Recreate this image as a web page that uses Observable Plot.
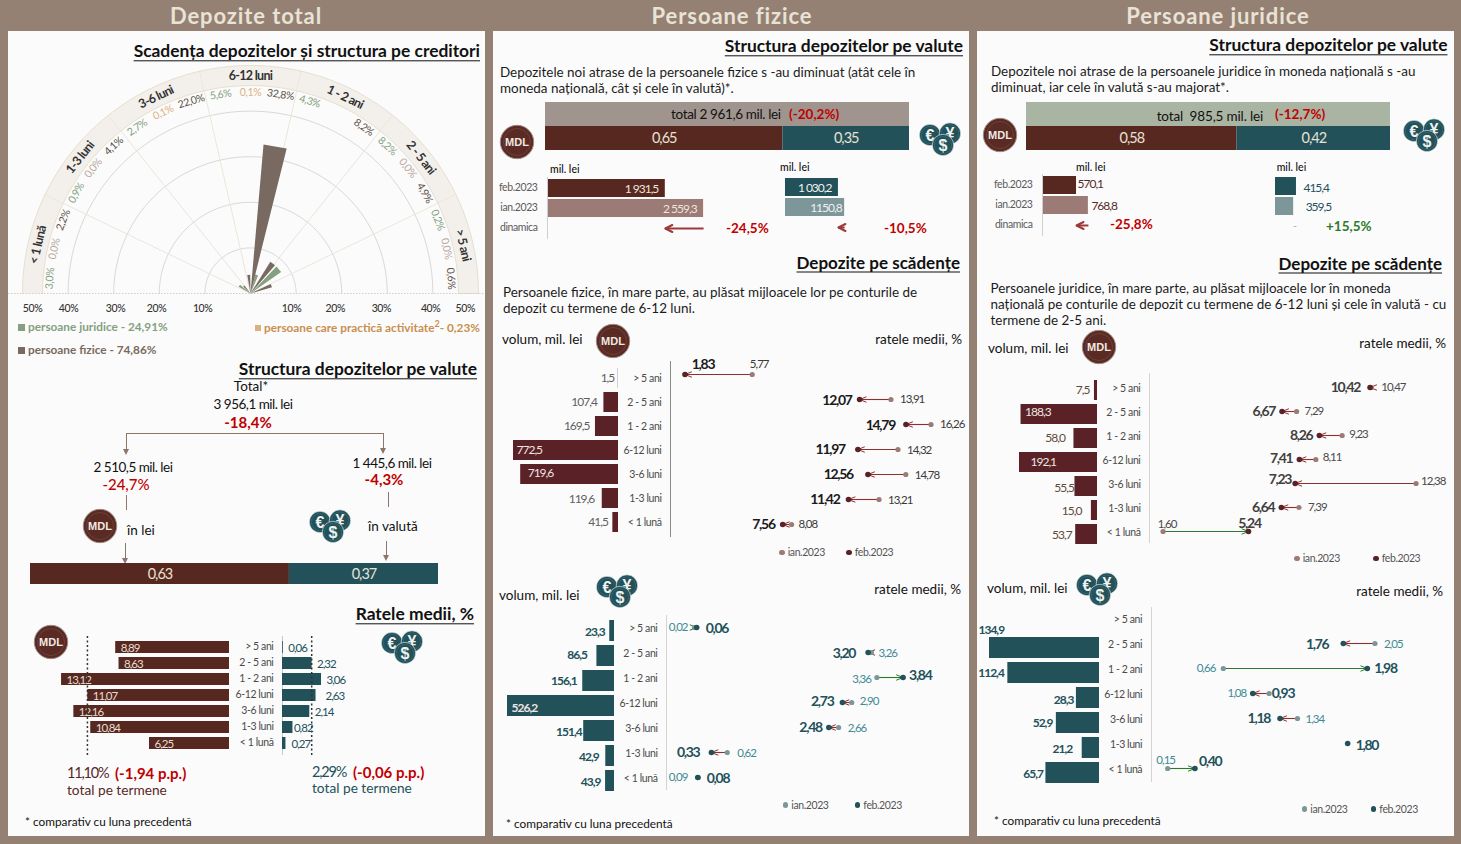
<!DOCTYPE html>
<html lang="ro">
<head>
<meta charset="utf-8">
<script src="https://cdn.jsdelivr.net/npm/d3@7"></script>
<script src="https://cdn.jsdelivr.net/npm/@observablehq/plot@0.6"></script>
<style>
html,body{margin:0;padding:0;width:1461px;height:844px;overflow:hidden;background:#958074;font-family:Lato,sans-serif;color:#111}
#page{position:absolute;left:0;top:0;width:1461px;height:844px}
.abs{position:absolute}
.t{position:absolute;white-space:nowrap;line-height:1}
.abs svg,.p svg{overflow:visible}
.p{position:absolute}
.p [font-size]{letter-spacing:-1px}
.p [font-size="10.5"]{letter-spacing:-.4px}
.p [font-size="12.5"]{letter-spacing:-.7px}
.p [font-size="14"]{letter-spacing:-1.3px}
</style>
</head>
<body>
<div id="page"></div>
<script>
/* ---------- data ---------- */
const termene = ["> 5 ani","2 - 5 ani","1 - 2 ani","6-12 luni","3-6 luni","1-3 luni","< 1 lună"];

// Depozite total: radial chart
const sectorNames = ["< 1 lună","1-3 luni","3-6 luni","6-12 luni","1 - 2 ani","2 - 5 ani","> 5 ani"];
const slotValues = [3.0,0.0,2.2, 0.9,0.0,4.1, 2.7,0.1,22.0, 5.6,0.1,32.8, 4.3,null,8.2, 8.2,0.0,4.9, 0.2,0.0,0.6];
const wedgeGroup = ["j","f","f","j","f","f","j","f"];
const wedgeValue = [3.0,2.2,4.1,4.3,32.8,8.2,8.2,4.9];
const wedgeFrom  = [-60,-46,-10,14,5,32,44,65];
const wedgeTo    = [-50,-37,-1,23,14,41,55,74];
const gridPercents = [10,20,30,40];
const polarTickText = ["50%","40%","30%","20%","10%","10%","20%","30%","40%","50%"];
const polarTickAt = [-47.8,-39.9,-29.6,-20.6,-10.5,9,18.6,28.7,39.5,47.1];

// Depozite total: currency split and average rates
const totalMdlVal = 2510.5, totalFxVal = 1445.6;
const totalRateMdl = [8.89,8.63,13.12,11.07,12.16,10.84,6.25];
const totalRateFx  = [0.06,2.32,3.06,2.63,2.14,0.82,0.27];
const avgRateMdl = 11.10, avgRateFx = 2.29;

// Persoane fizice
const fizMdlTot = 1931.5, fizFxTot = 1030.2;
const fizMdlIanTot = 2559.3, fizFxIanTot = 1150.8;
const fizMdlVol = [1.5,107.4,169.5,772.5,719.6,119.6,41.5];
const fizMdlFeb = [1.83,12.07,14.79,11.97,12.56,11.42,7.56];
const fizMdlIan = [5.77,13.91,16.26,14.32,14.78,13.21,8.08];
const fizFxVol  = [23.3,86.5,156.1,526.2,151.4,42.9,43.9];
const fizFxFeb  = [0.06,3.20,3.84,2.73,2.48,0.33,0.08];
const fizFxIan  = [0.02,3.26,3.36,2.90,2.66,0.62,0.09];

// Persoane juridice
const jurMdlTot = 570.1, jurFxTot = 415.4;
const jurMdlIanTot = 768.8, jurFxIanTot = 359.5;
const jurMdlVol = [7.5,188.3,58.0,192.1,55.5,15.0,53.7];
const jurMdlFeb = [10.42,6.67,8.26,7.41,7.23,6.64,5.24];
const jurMdlIan = [10.47,7.29,9.23,8.11,12.38,7.39,1.60];
const jurFxVol  = [null,134.9,112.4,28.3,52.9,21.2,65.7];
const jurFxFeb  = [null,1.76,1.98,0.93,1.18,1.80,0.40];
const jurFxIan  = [null,2.05,0.66,1.08,1.34,null,0.15];

/* ---------- label nudges in pixels: [dx, dy, anchor] ---------- */
const nFizMdlVol = [[-4,0],[-7,0],[-6,0],[3,0],[7,-1],[-8,1],[-5,0]];
const nFizMdlFeb = [[18,-10,"m"],[-8,1],[-11,1],[-13,0],[-15,0],[-9,0],[-8,0]];
const nFizMdlIan = [[7,-10,"m"],[9,0],[9,0],[9,1],[9,1],[9,1],[7,0]];
const nFizFxVol  = [[-5,1],[-10,-1],[-6,0],[4,2],[-2,1],[-7,1],[-5,1]];
const nFizFxFeb  = [[9,1],[-13,1],[6,-2],[-9,-1],[-7,0],[-12,0],[9,1]];
const nFizFxIan  = [[-7,0],[7,1],[-6,2],[8,-1],[9,1],[10,1],[-11,0]];
const nJurMdlVol = [[-5,0],[4,-2],[-9,0],[11,0],[-1,2],[-10,1],[-4,1]];
const nJurMdlFeb = [[-10,0],[-7,0],[-7,0],[-7,-1],[-4,-4],[-7,0],[1,-8,"m"]];
const nJurMdlIan = [[10,0],[8,0],[7,-1],[7,-2],[5,-2],[9,0],[4,-7,"m"]];
const nJurFxVol  = [[0,0],[-11,-17.5,"s"],[-4,0],[-3,2],[-4,0],[-10,1],[-3,1]];
const nJurFxFeb  = [[0,0],[-15,1],[7,0],[19,0],[-10,0],[8,2],[4,-7]];
const nJurFxIan  = [[0,0],[9,1],[-8,0],[-23,0],[8,1],[0,0],[-2,-8,"m"]];
const nRateFx    = [5,5,5,9.5,5,1,5.6];

/* ---------- style ---------- */
const RED="#57281f", TEAL="#22515a", PLUM="#5a2127", LIGHT="#e8e2d4", ALERT="#c00000";
const GOOD="#2a7a2a", BAD="#8f2f2f";
const GREEN="#84a07f", BROWN="#786a60", TAN="#dcb182", GREYTAN="#b9a59c";
const page=document.getElementById("page");
const comma=(v,d)=>v.toFixed(d).replace(".",",");

/* ---------- helpers ---------- */
function t(html,x,y,o={}){
  const e=document.createElement("div"); e.className="t"; e.innerHTML=html;
  const a=o.anchor||"start";
  const tx=a==="end"?"-100%":a==="middle"?"-50%":"0";
  e.style.cssText+=`left:${x}px;top:${y}px;transform:translate(${tx},-50%);font-size:${o.size||13}px;font-weight:${o.weight||400};color:${o.color||"#111"};`+(o.css||"");
  page.appendChild(e); return e;
}
function box(x,y,w,h,bg){const e=document.createElement("div");e.className="abs";e.style.cssText=`left:${x}px;top:${y}px;width:${w}px;height:${h}px;background:${bg}`;page.appendChild(e);return e;}
function vline(x,y1,y2,c,w=1){box(x,y1,w,y2-y1,c);}
function hline(x1,x2,y,c,w=1){box(x1,y,x2-x1,w,c);}
function downArrow(x,y1,y2,c="#8a766b"){
  vline(x,y1,y2-4,c);
  const e=document.createElement("div");e.className="abs";
  e.style.cssText=`left:${x-3}px;top:${y2-5}px;width:0;height:0;border-left:3.5px solid transparent;border-right:3.5px solid transparent;border-top:6px solid ${c}`;
  page.appendChild(e);
}
function heading(text,right,y,size=17.4){
  t(text,right,y,{anchor:"end",size,weight:700,css:"text-decoration:underline;text-decoration-thickness:1.4px;text-underline-offset:3px;text-decoration-skip-ink:none;"});
}
function para(lines,x,y,step=16){lines.forEach((l,i)=>t(l,x,y+i*step,{size:13.45,color:"#1c1c1c"}));}
function legendPair(ianX,febX,y,ianC,febC,textC="#555"){
  const d=(x,c)=>{const e=box(x-2.5,y-2.5,5.5,5.5,c);e.style.borderRadius="50%";};
  d(ianX,ianC);t("ian.2023",ianX+6,y,{size:10.5,color:textC,css:"letter-spacing:-.4px;"});
  d(febX,febC);t("feb.2023",febX+6,y,{size:10.5,color:textC,css:"letter-spacing:-.4px;"});
}
function svgIcon(x,y,w,h,inner){
  const e=document.createElement("div");e.className="abs";e.style.cssText=`left:${x}px;top:${y}px;width:${w}px;height:${h}px`;
  e.innerHTML=`<svg width="${w}" height="${h}" viewBox="0 0 ${w} ${h}" xmlns="http://www.w3.org/2000/svg">${inner}</svg>`;
  page.appendChild(e);
}
function coinMDL(cx,cy){
  svgIcon(cx-18,cy-18,36,36,`<circle cx="18" cy="18" r="16.7" fill="#5a2a24" stroke="#a08c84" stroke-width="1"/>
  <circle cx="18" cy="18" r="13.5" fill="none" stroke="#6e3f37" stroke-width="1"/>
  <text x="18" y="21.8" text-anchor="middle" font-family="Liberation Sans,Arial,sans-serif" font-weight="700" font-size="11" fill="#f0e8e0">MDL</text>`);
}
function coinFX(cx,cy){ // cx,cy: centre of the $ coin
  const c=(x,y,s)=>`<circle cx="${x}" cy="${y}" r="10.7" fill="${TEAL}" stroke="#fafafa" stroke-width=".6"/><circle cx="${x}" cy="${y}" r="8.6" fill="none" stroke="#3a6a72" stroke-width=".7"/>
  <text x="${x}" y="${y+5.6}" text-anchor="middle" font-family="Liberation Sans,Arial,sans-serif" font-weight="700" font-size="16" fill="#eef2f0">${s}</text>`;
  svgIcon(cx-26,cy-26,52,42,c(13,16,"€")+c(33,14.5,"¥")+c(26,26,"$"));
}
function place(b,opts){
  const [l,tp,w,h]=b;
  const o={...opts,width:w,height:h,margin:0,color:{type:"identity"},
    style:{background:"transparent",overflow:"visible",fontFamily:"Lato,sans-serif",fontSize:"12px",color:"#111"}};
  if(o.x)o.x={axis:null,...o.x,range:o.x.range.map(v=>v-l)};
  if(o.y)o.y={axis:null,...o.y,range:o.y.range.map(v=>v-tp)};
  const c=Plot.plot(o);
  const d=document.createElement("div");d.className="p";d.style.cssText=`left:${l}px;top:${tp}px;width:${w}px;height:${h}px`;
  d.appendChild(c);page.appendChild(d);return c;
}
function anchorOf(n){return n[2]==="m"?"middle":n[2]==="s"?"start":n[2]==="e"?"end":n[0]<0?"end":"start";}
function nudged(rows,nudges,style){
  return rows.map((r,i)=>({...r,n:nudges[i]})).filter(r=>r.v!=null).map(r=>
    Plot.text([r],{x:"v",y:"c",text:"t",dx:r.n[0],dy:r.n[1],textAnchor:anchorOf(r.n),...(typeof style==="function"?style(r):style)}));
}
// open arrow head at the "to" value, independent of the shaft length
const vHead={draw(ctx,l,r){ctx.moveTo(-r,-l);ctx.lineTo(0,0);ctx.lineTo(r,-l);}};

/* ---------- maturity block: volume bars + dumbbell of rates ---------- */
function maturityBlock(c){
  const maxV=d3.max(c.vol), padI=.16;
  const rowsV=termene.map((k,i)=>({c:k,v:c.vol[i],t:c.vol[i]==null?"":comma(c.vol[i],1)}));
  const rowsCat=termene.map(k=>({c:k}));
  place([c.zero-125,c.bandY[0]-8,c.catRight-c.zero+130,c.bandY[1]-c.bandY[0]+16],{
    x:{domain:[0,maxV],range:[c.zero,c.zero-c.ppuV*maxV]},
    y:{type:"band",domain:termene,range:c.bandY,paddingInner:padI,paddingOuter:0},
    marks:[
      Plot.barX(rowsV.filter(r=>r.v!=null),{x:"v",y:"c",fill:c.bar}),
      nudged(rowsV,c.nVol,r=>({fontSize:12,fontWeight:c.volWeight||400,fill:r.n[0]>0&&r.n[2]!=="s"?"#eee5e0":c.volColor})),
      Plot.text(rowsCat,{x:()=>0,y:"c",text:"c",dx:c.catRight-c.zero,dy:c.catDy,textAnchor:"end",fontSize:10.5,fill:"#4a4a4a"})
    ]});
  vline(c.axis[0],c.axis[1],c.axis[2],c.axisC);
  const maxR=d3.max([...c.feb,...c.ian]);
  const rows=termene.map((k,i)=>({c:k,feb:c.feb[i],ian:c.ian[i]}));
  const both=rows.filter(r=>r.feb!=null&&r.ian!=null);
  const heads=both.filter(r=>Math.abs(r.feb-r.ian)*c.ppuR>=1);
  const febRows=rows.map(r=>({c:r.c,v:r.feb,t:r.feb==null?"":comma(r.feb,2)}));
  const ianRows=rows.map(r=>({c:r.c,v:r.ian,t:r.ian==null?"":comma(r.ian,2)}));
  const col=d=>d.feb<d.ian?BAD:GOOD;
  place([c.axis[0]+1,c.dotY[0]-16,c.rightEdge-c.axis[0]-1,c.dotY[1]-c.dotY[0]+32],{
    x:{domain:[0,maxR],range:[c.x0,c.x0+c.ppuR*maxR]},
    y:{type:"point",domain:termene,range:c.dotY,padding:0},
    marks:[
      Plot.link(both,{x1:"ian",x2:"feb",y1:"c",y2:"c",stroke:col,strokeWidth:1.1}),
      Plot.vector(heads,{x:"feb",y:"c",rotate:d=>d.feb<d.ian?90:-90,length:6.5,r:2.6,anchor:"start",shape:vHead,stroke:col,strokeWidth:1,fill:"none"}),
      Plot.dot(ianRows.filter(r=>r.v!=null),{x:"v",y:"c",r:2.6,fill:c.ianC}),
      Plot.dot(febRows.filter(r=>r.v!=null),{x:"v",y:"c",r:2.8,fill:c.febC}),
      nudged(ianRows,c.nIan,{fontSize:11.5,fill:c.ianText}),
      nudged(febRows,c.nFeb,{fontSize:14,fontWeight:700,fill:c.febText})
    ]});
}

/* ---------- split bar ---------- */
function splitBar(x1,x2,y1,y2,mdl,fx,lMdl,lFx,totalFill,totalTop){
  const total=mdl+fx;
  const rows=[{k:"lei",v:mdl,l:lMdl,fill:RED},{k:"valuta",v:fx,l:lFx,fill:TEAL}];
  const dom=totalFill?["total","structura"]:["structura"];
  const top=totalFill?totalTop:y1;
  place([x1,top,x2-x1,y2-top],{
    x:{domain:[0,total],range:[x1,x2]},
    y:{type:"band",domain:dom,range:[top,y2],padding:0},
    marks:[
      totalFill?Plot.barX([{v:total}],{x:"v",y:()=>"total",fill:totalFill}):null,
      Plot.barX(rows,Plot.stackX({x:"v",y:()=>"structura",fill:"fill",order:null})),
      Plot.text(rows,Plot.stackX({x:"v",y:()=>"structura",text:"l",fill:LIGHT,fontSize:14.5,order:null}))
    ]});
}

/* ---------- two months bars with dynamics row ---------- */
function monthBars(c){
  const dom=["feb.2023","ian.2023","dinamica"];
  const rows=[{c:dom[0],v:c.feb,t:c.lFeb,fill:c.fFeb},{c:dom[1],v:c.ian,t:c.lIan,fill:c.fIan}];
  const maxV=Math.max(c.feb,c.ian);
  const dyn=[{a:c.ian,b:c.feb}];
  const col=c.arrowC||"#9c3a3a", w=c.arrowW||2;
  place([c.zero-60,c.top-4,c.ppu*maxV+100,c.bottom-c.top+10],{
    x:{domain:[0,maxV],range:[c.zero,c.zero+c.ppu*maxV]},
    y:{type:"band",domain:dom,range:[c.top,c.bottom],paddingInner:.095,paddingOuter:0},
    marks:[
      Plot.barX(rows,{x:"v",y:"c",fill:"fill"}),
      nudged(rows,c.nVal,{fontSize:12,fill:c.valC}),
      c.rowLabels?Plot.text(dom,{x:()=>0,y:d=>d,text:d=>d,dx:c.rowLabels,dy:-.5,textAnchor:"end",fontSize:10.5,fill:"#5a5a5a"}):null,
      Plot.link(dyn,{x1:"a",x2:"b",y1:()=>"dinamica",y2:()=>"dinamica",stroke:col,strokeWidth:w}),
      c.noHead?null:Plot.vector(dyn,{x:"b",y:()=>"dinamica",rotate:90,length:7,r:3.5,anchor:"start",shape:vHead,stroke:col,strokeWidth:w,fill:"none"})
    ]});
}

/* ---------- frame ---------- */
[[8,31,477,805],[493,31,476,805],[977,31,477,805]].forEach(p=>box(...p,"#fbfbfb"));
[["Depozite total",246],["Persoane fizice",732],["Persoane juridice",1218]].forEach(([s,x])=>
  t(s,x,15.5,{anchor:"middle",size:22,weight:700,color:"#e9e3d6",css:"letter-spacing:.9px;"}));

/* ---------- PANEL 1: radial ---------- */
heading("Scadența depozitelor și structura pe creditori",480,51);
const DEG=Math.PI/180, STEP=180/7, SLOT=180/21;
const polar=(r,a)=>({x:r*Math.sin(a*DEG),y:r*Math.cos(a*DEG)});
const arc=(r,a1,a2,n=24)=>d3.range(n+1).map(i=>polar(r,a1+(a2-a1)*i/n));
const BAND_IN=45.6;
const bandPolys=sectorNames.flatMap((s,i)=>{
  const a1=-90+i*STEP,a2=a1+STEP;
  return [...arc(50,a1,a2,12),...arc(BAND_IN,a2,a1,12)].map(p=>({...p,s}));
});
const gridPts=gridPercents.flatMap(r=>arc(r,-90,90,60).map(p=>({...p,r})));
const divs=d3.range(1,7).flatMap(i=>[{...polar(0,-90+i*STEP),i},{...polar(BAND_IN,-90+i*STEP),i}]);
const wedgePts=wedgeValue.flatMap((v,i)=>[{x:0,y:0},polar(v,wedgeFrom[i]),polar(v,wedgeTo[i])].map(p=>({...p,i,g:wedgeGroup[i]})));
const sectorLabels=sectorNames.map((s,i)=>({s,...polar(47.8,-90+(i+.5)*STEP),a:-90+(i+.5)*STEP}));
const slotRows=slotValues.map((v,i)=>{
  const g=["j","p","f"][i%3], a=-90+(i+.5)*SLOT;
  return {v,g,a,...polar(44.1,a),t:v==null?"":comma(v,1)+"%",fill:g==="j"?GREEN:g==="f"?"#5d5249":(v===0?GREYTAN:TAN)};
}).filter(d=>d.v!=null);
const ticks=polarTickText.map((s,i)=>({s,x:polarTickAt[i]}));
place([8,60,477,265],{
  x:{domain:[-50,50],range:[22,478]},
  y:{domain:[0,50],range:[293,65]},
  marks:[
    Plot.line(bandPolys,{x:"x",y:"y",z:"s",fill:"#f3f0ec",stroke:"#e6e0cf",strokeWidth:1}),
    Plot.line(gridPts,{x:"x",y:"y",z:"r",stroke:"#d9d9d9",strokeWidth:1}),
    Plot.line(divs,{x:"x",y:"y",z:"i",stroke:"#ece6da",strokeWidth:1}),
    Plot.ruleY([0],{stroke:"#cfcfcf",strokeDasharray:"1.5,1.5"}),
    Plot.line(wedgePts.filter(d=>d.g==="j"),{x:"x",y:"y",z:"i",fill:GREEN,stroke:"none"}),
    Plot.line(wedgePts.filter(d=>d.g==="f"),{x:"x",y:"y",z:"i",fill:BROWN,stroke:"none"}),
    Plot.text(sectorLabels,{x:"x",y:"y",text:"s",rotate:"a",fontSize:12.5,fontWeight:700,fill:"#333"}),
    Plot.text(slotRows,{x:"x",y:"y",text:"t",rotate:"a",fontSize:10.5,fill:"fill"}),
    Plot.text(ticks,{x:"x",y:()=>0,text:"s",dy:15.5,fontSize:10.5,fontWeight:500,fill:"#333"})
  ]});
box(18,324,7,7,GREEN);t("persoane juridice - 24,91%",28,327,{size:11.8,weight:700,color:GREEN});
box(18,347,7,7,BROWN);t("persoane fizice - 74,86%",28,350,{size:11.8,weight:700,color:BROWN});
box(255,325,6,6,TAN);t("persoane care practică activitate<sup style='font-size:9px;line-height:0'>2</sup>- 0,23%",264,327.5,{size:11.8,weight:700,color:"#c88f4f"});

/* ---------- PANEL 1: structure ---------- */
heading("Structura depozitelor pe valute",477,369);
t("Total*",251,387,{anchor:"middle",size:13.5});
const tight="letter-spacing:-.5px;";
t("3 956,1 mil. lei",253,405,{anchor:"middle",size:13.5,css:tight});
t("-18,4%",248,422,{anchor:"middle",size:15,weight:700,color:ALERT});
hline(126,383,433,"#8a766b");
downArrow(126,433,454);downArrow(383,433,453);
t("2 510,5 mil. lei",133,468,{anchor:"middle",size:13.5,css:tight});
t("-24,7%",126,484,{anchor:"middle",size:15,weight:500,color:ALERT});
t("1 445,6 mil. lei",392,464,{anchor:"middle",size:13.5,css:tight});
t("-4,3%",384,479,{anchor:"middle",size:15,weight:700,color:ALERT});
vline(126,495,510,"#8a766b");vline(388,492,507,"#8a766b");
t("în lei",127,531,{size:13.5});t("în valută",368,527,{size:13.5});
downArrow(125,543,563);downArrow(386,541,560);
coinMDL(100,526);coinFX(333,532);
splitBar(30,438,563,584,totalMdlVal,totalFxVal,"0,63","0,37");

/* ---------- PANEL 1: rates ---------- */
heading("Ratele medii, %",474,614);
coinMDL(50.7,642);coinFX(405,653);
const rateL=termene.map((c,i)=>({c,v:totalRateMdl[i],t:comma(totalRateMdl[i],2)}));
const rateR=termene.map((c,i)=>({c,v:totalRateFx[i],t:comma(totalRateFx[i],2)}));
place([55,636,225,119],{
  x:{domain:[0,14],range:[229,229-12.8*14]},
  y:{type:"band",domain:termene,range:[638,753],paddingInner:.235,paddingOuter:0},
  marks:[
    Plot.barX(rateL,{x:"v",y:"c",fill:RED}),
    Plot.text(rateL,{x:"v",y:"c",text:"t",dx:5,dy:.5,textAnchor:"start",fontSize:11.5,fill:"#e8dcd2"}),
    Plot.ruleX([avgRateMdl],{stroke:"#333",strokeWidth:1.5,strokeDasharray:"2,2.5"}),
    Plot.text(rateL,{x:()=>0,y:"c",text:"c",dx:44,dy:-1,textAnchor:"end",fontSize:10.5,fill:"#4a4a4a"})
  ]});
place([275,636,80,119],{
  x:{domain:[0,4],range:[282,282+12.75*4]},
  y:{type:"band",domain:termene,range:[638,753],paddingInner:.235,paddingOuter:0},
  marks:[
    Plot.ruleX([0],{stroke:"#c9c9c9",strokeWidth:1}),
    Plot.barX(rateR,{x:"v",y:"c",fill:TEAL}),
    Plot.ruleX([avgRateFx],{stroke:"#333",strokeWidth:1.5,strokeDasharray:"2,2.5"}),
    nudged(rateR,nRateFx.map(d=>[d,.5]),{fontSize:11.5,fill:TEAL})
  ]});
const rateTight="letter-spacing:-1.2px;";
t(comma(avgRateMdl,2)+"%",67,773,{size:14.5,color:RED,css:rateTight});
t("(-1,94 p.p.)",115,773,{size:15,weight:700,color:ALERT});
t("total pe termene",67,789.5,{size:13.7,color:RED});
t(comma(avgRateFx,2)+"%",312,772,{size:14.5,color:TEAL,css:rateTight});
t("(-0,06 p.p.)",353,772,{size:15,weight:700,color:ALERT});
t("total pe termene",312,787.5,{size:13.7,color:TEAL});
t("* comparativ cu luna precedentă",25,822,{size:11.8});

/* ---------- PANEL 2 ---------- */
heading("Structura depozitelor pe valute",963,46);
para(["Depozitele noi atrase de la persoanele fizice s -au diminuat (atât cele în","moneda națională, cât și cele în valută)*."],500,73);
splitBar(545,909,126,150,fizMdlTot,fizFxTot,"0,65","0,35","#9f958e",102);
t("total 2 961,6 mil. lei",671,114.5,{size:13.5,css:"letter-spacing:-.35px;"});
t("(-20,2%)",789,114.5,{size:13.5,weight:700,color:ALERT});
coinMDL(516.7,142);coinFX(943,145);
t("mil. lei",550,169,{size:10.5,weight:500});t("mil. lei",780,166.5,{size:10.5,weight:500});
monthBars({zero:547,ppu:.061,top:178,bottom:239,feb:fizMdlTot,ian:fizMdlIanTot,lFeb:"1 931,5",lIan:"2 559,3",fFeb:RED,fIan:"#9c7a76",nVal:[[-7,0.5,"e"],[-7,0.5,"e"]],valC:"#eee5dc",rowLabels:-10});
vline(547,177,239,"#cfcfcf");
t("-24,5%",726,229,{size:13.5,weight:700,color:ALERT});
monthBars({zero:785,ppu:.0514,top:177,bottom:238,feb:fizFxTot,ian:fizFxIanTot,lFeb:"1 030,2",lIan:"1150,8",fFeb:TEAL,fIan:"#7c9699",nVal:[[-7,0.5,"e"],[-3,0.5,"e"]],valC:"#eef2f0"});
t("-10,5%",884,229,{size:13.5,weight:700,color:ALERT});
heading("Depozite pe scădențe",960,262,17);
para(["Persoanele fizice, în mare parte, au plăsat mijloacele lor pe conturile de","depozit cu termene de 6-12 luni."],503,293,16);
t("volum, mil. lei",502,340,{size:13.5});t("ratele medii, %",962,339.5,{anchor:"end",size:13.5});
coinMDL(612.7,341);
maturityBlock({vol:fizMdlVol,feb:fizMdlFeb,ian:fizMdlIan,zero:618,ppuV:105/772.5,catRight:661,catDy:0,bandY:[366,534],
  bar:PLUM,nVol:nFizMdlVol,volColor:"#5f5f5f",axis:[669.5,361,537],axisC:"#8a8a8a",
  x0:652.8,ppuR:17.05,dotY:[374,524],ianC:"#9c7a76",febC:PLUM,ianText:"#3a3a3a",febText:"#1a1a1a",nFeb:nFizMdlFeb,nIan:nFizMdlIan,rightEdge:968});
legendPair(781.7,848.7,552,"#9c7a76",PLUM);
t("volum, mil. lei",499,596,{size:13.5});t("ratele medii, %",961,590,{anchor:"end",size:13.5});
coinFX(620,597);
maturityBlock({vol:fizFxVol,feb:fizFxFeb,ian:fizFxIan,zero:614,ppuV:107/526.2,catRight:657,catDy:-2,bandY:[619,792],
  bar:TEAL,nVol:nFizFxVol,volColor:TEAL,volWeight:700,axis:[665.5,615,790],axisC:"#d4d4d4",
  x0:692.4,ppuR:54.6,dotY:[627.3,777.3],ianC:"#7c9699",febC:TEAL,ianText:"#3f8a94",febText:TEAL,nFeb:nFizFxFeb,nIan:nFizFxIan,rightEdge:968});
legendPair(785.3,857.3,804.5,"#7c9699",TEAL);
t("* comparativ cu luna precedentă",506,824,{size:11.8});

/* ---------- PANEL 3 ---------- */
heading("Structura depozitelor pe valute",1447.5,45);
para(["Depozitele noi atrase de la persoanele juridice în moneda națională s -au","diminuat, iar cele în valută s-au majorat*."],991,72);
splitBar(1026,1390,126,150,jurMdlTot,jurFxTot,"0,58","0,42","#a9b4a2",102);
t("total&nbsp; 985,5 mil. lei",1156.7,117,{size:13.5,css:"letter-spacing:-.15px;"});
t("(-12,7%)",1275,115,{size:13.5,weight:700,color:ALERT});
coinMDL(1000,135);coinFX(1427,141);
t("mil. lei",1076,166.7,{size:10.5,weight:500});t("mil. lei",1276.7,166.7,{size:10.5,weight:500});
monthBars({zero:1042,ppu:.0597,top:175,bottom:236,feb:jurMdlTot,ian:jurMdlIanTot,lFeb:"570,1",lIan:"768,8",fFeb:RED,fIan:"#9c7a76",nVal:[[1,-1,"s"],[3,1,"s"]],valC:"#5a2a26",rowLabels:-10});
vline(1042,174,236,"#cfcfcf");
t("-25,8%",1110,225,{size:13.5,weight:700,color:ALERT});
monthBars({zero:1275,ppu:.0505,top:176,bottom:237,feb:jurFxTot,ian:jurFxIanTot,lFeb:"415,4",lIan:"359,5",fFeb:TEAL,fIan:"#7c9699",nVal:[[7,1.5,"s"],[12,.5,"s"]],valC:TEAL,arrowC:TAN,arrowW:1,noHead:true});
t("+15,5%",1326,227,{size:13.5,weight:700,color:GOOD});
heading("Depozite pe scădențe",1442,263,17);
para(["Persoanele juridice, în mare parte, au plăsat mijloacele lor în moneda","națională pe conturile de depozit cu termene de 6-12 luni și cele în valută - cu","termene de 2-5 ani."],990.5,289,16);
t("volum, mil. lei",988,349,{size:13.5});t("ratele medii, %",1446,343.5,{anchor:"end",size:13.5});
coinMDL(1099,347);
maturityBlock({vol:jurMdlVol,feb:jurMdlFeb,ian:jurMdlIan,zero:1097,ppuV:78/192.1,catRight:1140,catDy:-2,bandY:[378,546],
  bar:PLUM,nVol:nJurMdlVol,volColor:"#5f4a3a",axis:[1148.5,373,543],axisC:"#d4d4d4",
  x0:1124.5,ppuR:23.47,dotY:[386,531],ianC:"#9c7a76",febC:PLUM,ianText:"#4a4a4a",febText:"#404040",nFeb:nJurMdlFeb,nIan:nJurMdlIan,rightEdge:1453});
legendPair(1296.7,1375.7,558,"#9c7a76",PLUM);
t("volum, mil. lei",987,589,{size:13.5});t("ratele medii, %",1443,592,{anchor:"end",size:13.5});
coinFX(1100,595);
maturityBlock({vol:jurFxVol,feb:jurFxFeb,ian:jurFxIan,zero:1099,ppuV:110/134.9,catRight:1141.7,catDy:-3,bandY:[611,783],
  bar:TEAL,nVol:nJurFxVol,volColor:TEAL,volWeight:700,axis:[1150.5,607,782],axisC:"#d4d4d4",
  x0:1150.3,ppuR:109.1,dotY:[618,768],ianC:"#7c9699",febC:TEAL,ianText:"#3f8a94",febText:TEAL,nFeb:nJurFxFeb,nIan:nJurFxIan,rightEdge:1453});
legendPair(1304.3,1373.3,808.5,"#7c9699",TEAL);
t("* comparativ cu luna precedentă",994,821,{size:11.8});
</script>
</body>
</html>
